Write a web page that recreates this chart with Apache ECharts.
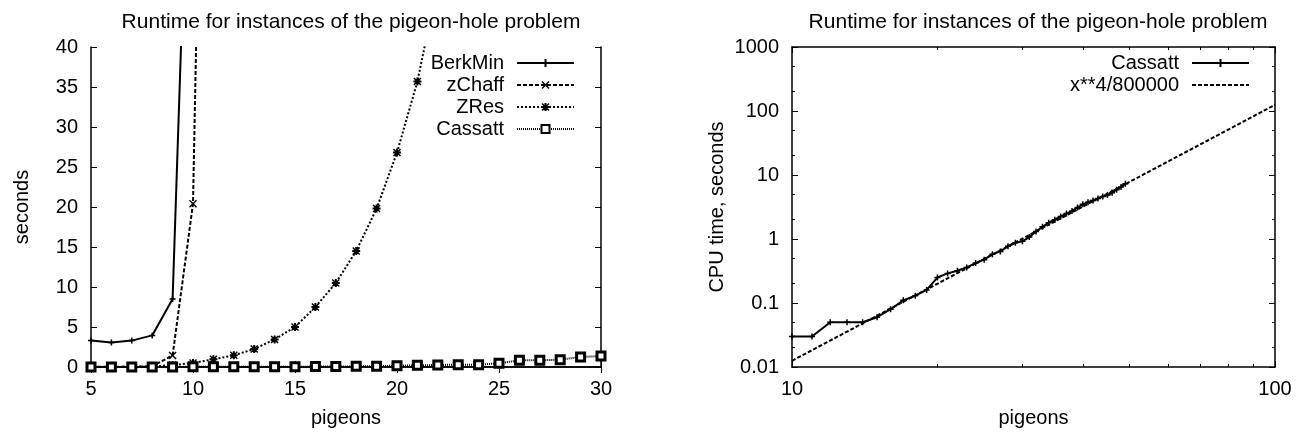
<!DOCTYPE html>
<html>
<head>
<meta charset="utf-8">
<script src="https://cdn.jsdelivr.net/npm/echarts@6/dist/echarts.min.js"></script>
<style>
html,body{margin:0;padding:0;background:#fff;}
#c{width:1308px;height:436px;}
</style>
</head>
<body>
<div id="c"></div>
<script>
// ---- Left chart data ----
const titleText = 'Runtime for instances of the pigeon-hole problem';
const leftXTicks = [5, 10, 15, 20, 25, 30];
const leftYTicks = [0, 5, 10, 15, 20, 25, 30, 35, 40];
const berkminX = [5, 6, 7, 8, 9, 10];
const berkminY = [3.3, 3.05, 3.3, 3.95, 8.5, 85];
const zchaffX = [5, 6, 7, 8, 9, 10, 11];
const zchaffY = [0.03, 0.03, 0.04, 0.1, 1.45, 20.4, 150];
const zresX = [5, 6, 7, 8, 9, 10, 11, 12, 13, 14, 15, 16, 17, 18, 19, 20, 21, 22];
const zresY = [0.01, 0.01, 0.02, 0.05, 0.25, 0.5, 0.96, 1.46, 2.25, 3.45, 5.0, 7.5, 10.5, 14.5, 19.8, 26.8, 35.7, 48];
const cassattLX = [5, 6, 7, 8, 9, 10, 11, 12, 13, 14, 15, 16, 17, 18, 19, 20, 21, 22, 23, 24, 25, 26, 27, 28, 29, 30];
const cassattLY = [0.01, 0.01, 0.01, 0.01, 0.01, 0.02, 0.02, 0.03, 0.03, 0.03, 0.04, 0.05, 0.07, 0.08, 0.1, 0.17, 0.21, 0.25, 0.29, 0.29, 0.46, 0.83, 0.83, 0.92, 1.25, 1.37];

// ---- Right chart data ----
const rightXMajor = [10, 100];
const rightXMinor = [20, 30, 40, 50, 60, 70, 80, 90];
const rightYMajor = [0.01, 0.1, 1, 10, 100, 1000];
const rightYMinor = [0.02, 0.05, 0.2, 0.5, 2, 5, 20, 50, 200, 500];
const cassattRX = [10, 11, 12, 13, 14, 15, 16, 17, 18, 19, 20, 21, 22, 23, 24, 25, 26, 27, 28, 29, 30, 31, 32, 33, 34, 35, 36, 37, 38, 39, 40, 41, 42, 43, 44, 45, 46, 47, 48, 49];
const cassattRY = [0.03, 0.03, 0.05, 0.05, 0.05, 0.06, 0.08, 0.11, 0.13, 0.16, 0.25, 0.29, 0.32, 0.36, 0.42, 0.475, 0.58, 0.64, 0.77, 0.87, 0.92, 1.07, 1.31, 1.55, 1.8, 2.0, 2.25, 2.5, 2.75, 3.1, 3.5, 3.75, 4.0, 4.3, 4.6, 4.85, 5.3, 5.9, 6.5, 7.3];
const fitX = [10, 100];
const fitY = [0.0125, 125];

const zip = (xs, ys) => xs.map((x, i) => [x, ys[i]]);

const FONT = 'Liberation Sans, Arial, Helvetica, sans-serif';
const plusPath = 'path://M3,0H5V3H8V5H5V8H3V5H0V3H3Z';
const crossPath = 'path://M0,1L1,0L4,3L7,0L8,1L5,4L8,7L7,8L4,5L1,8L0,7L3,4Z';
const starPath = 'path://M3,0H5V3H8V5H5V8H3V5H0V3H3Z M0,1L1,0L4,3L7,0L8,1L5,4L8,7L7,8L4,5L1,8L0,7L3,4Z';

const labelStyle = {fontFamily: FONT, fontSize: 20, color: '#000'};
const lineAxis = {show: true, lineStyle: {color: '#000', width: 1.5}};

function fmt(v) { return String(+(+v).toPrecision(6)); }

const grids = [
  {left: 91, top: 47, width: 510, height: 320},
  {left: 792, top: 47, width: 483, height: 320}
];

const xAxes = [
  { // 0 left bottom
    gridIndex: 0, type: 'value', position: 'bottom', min: 5, max: 30, interval: 5,
    axisLine: lineAxis,
    axisTick: {show: true, inside: true, length: 6, lineStyle: {color: '#000', width: 1}, customValues: leftXTicks},
    axisLabel: Object.assign({margin: 12, customValues: leftXTicks, formatter: fmt}, labelStyle),
    splitLine: {show: false},
    name: 'pigeons', nameLocation: 'middle', nameGap: 41,
    nameTextStyle: {fontFamily: FONT, fontSize: 20, color: '#000'}
  },
  { // 1 left top
    gridIndex: 0, type: 'value', position: 'top', min: 5, max: 30, interval: 5,
    axisLine: lineAxis,
    axisTick: {show: true, inside: true, length: 6, lineStyle: {color: '#000', width: 1}, customValues: leftXTicks},
    axisLabel: {show: false}, splitLine: {show: false}
  },
  { // 2 right bottom major
    gridIndex: 1, type: 'log', logBase: 10, position: 'bottom', min: 10, max: 100,
    axisLine: lineAxis,
    axisTick: {show: true, inside: true, length: 6, lineStyle: {color: '#000', width: 1}, customValues: rightXMajor},
    axisLabel: Object.assign({margin: 12, customValues: rightXMajor, formatter: fmt}, labelStyle),
    splitLine: {show: false},
    name: 'pigeons', nameLocation: 'middle', nameGap: 41,
    nameTextStyle: {fontFamily: FONT, fontSize: 20, color: '#000'}
  },
  { // 3 right bottom minor
    gridIndex: 1, type: 'log', logBase: 10, position: 'bottom', min: 10, max: 100,
    axisLine: {show: false},
    axisTick: {show: true, inside: true, length: 3, lineStyle: {color: '#000', width: 1}, customValues: rightXMinor},
    axisLabel: {show: false}, splitLine: {show: false}
  },
  { // 4 right top major
    gridIndex: 1, type: 'log', logBase: 10, position: 'top', min: 10, max: 100,
    axisLine: lineAxis,
    axisTick: {show: true, inside: true, length: 6, lineStyle: {color: '#000', width: 1}, customValues: rightXMajor},
    axisLabel: {show: false}, splitLine: {show: false}
  },
  { // 5 right top minor
    gridIndex: 1, type: 'log', logBase: 10, position: 'top', min: 10, max: 100,
    axisLine: {show: false},
    axisTick: {show: true, inside: true, length: 3, lineStyle: {color: '#000', width: 1}, customValues: rightXMinor},
    axisLabel: {show: false}, splitLine: {show: false}
  }
];

const yAxes = [
  { // 0 left left
    gridIndex: 0, type: 'value', position: 'left', min: 0, max: 40, interval: 5,
    axisLine: lineAxis,
    axisTick: {show: true, inside: true, length: 6, lineStyle: {color: '#000', width: 1}, customValues: leftYTicks},
    axisLabel: Object.assign({margin: 13, customValues: leftYTicks, formatter: fmt}, labelStyle),
    splitLine: {show: false},
    name: 'seconds', nameLocation: 'middle', nameGap: 59,
    nameTextStyle: {fontFamily: FONT, fontSize: 20, color: '#000'}
  },
  { // 1 left right
    gridIndex: 0, type: 'value', position: 'right', min: 0, max: 40, interval: 5,
    axisLine: lineAxis,
    axisTick: {show: true, inside: true, length: 6, lineStyle: {color: '#000', width: 1}, customValues: leftYTicks},
    axisLabel: {show: false}, splitLine: {show: false}
  },
  { // 2 right-chart left major
    gridIndex: 1, type: 'log', logBase: 10, position: 'left', min: 0.01, max: 1000,
    axisLine: lineAxis,
    axisTick: {show: true, inside: true, length: 6, lineStyle: {color: '#000', width: 1}, customValues: rightYMajor},
    axisLabel: Object.assign({margin: 13, customValues: rightYMajor, formatter: fmt}, labelStyle),
    splitLine: {show: false},
    name: 'CPU time, seconds', nameLocation: 'middle', nameGap: 65,
    nameTextStyle: {fontFamily: FONT, fontSize: 20, color: '#000'}
  },
  { // 3 right-chart left minor
    gridIndex: 1, type: 'log', logBase: 10, position: 'left', min: 0.01, max: 1000,
    axisLine: {show: false},
    axisTick: {show: true, inside: true, length: 3, lineStyle: {color: '#000', width: 1}, customValues: rightYMinor},
    axisLabel: {show: false}, splitLine: {show: false}
  },
  { // 4 right-chart right major
    gridIndex: 1, type: 'log', logBase: 10, position: 'right', min: 0.01, max: 1000,
    axisLine: lineAxis,
    axisTick: {show: true, inside: true, length: 6, lineStyle: {color: '#000', width: 1}, customValues: rightYMajor},
    axisLabel: {show: false}, splitLine: {show: false}
  },
  { // 5 right-chart right minor
    gridIndex: 1, type: 'log', logBase: 10, position: 'right', min: 0.01, max: 1000,
    axisLine: {show: false},
    axisTick: {show: true, inside: true, length: 3, lineStyle: {color: '#000', width: 1}, customValues: rightYMinor},
    axisLabel: {show: false}, splitLine: {show: false}
  }
];

const legendText = {fontFamily: FONT, fontSize: 20, color: '#000', lineHeight: 22, padding: [0, 8, 0, 0]};

const option = {
  backgroundColor: '#fff',
  animation: false,
  textStyle: {fontFamily: FONT},
  title: [
    {text: titleText, left: 346, top: 7, textAlign: 'center',
     textStyle: {fontFamily: FONT, fontSize: 21, fontWeight: 'normal', color: '#000'}},
    {text: titleText, left: 1033, top: 7, textAlign: 'center',
     textStyle: {fontFamily: FONT, fontSize: 21, fontWeight: 'normal', color: '#000'}}
  ],
  grid: grids,
  xAxis: xAxes,
  yAxis: yAxes,
  legend: [
    {
      data: ['BerkMin', 'zChaff', 'ZRes', 'Cassatt'],
      orient: 'vertical', align: 'right', right: 733, top: 52, padding: 0,
      itemWidth: 57, itemHeight: 10, itemGap: 0,
      textStyle: legendText, selectedMode: false
    },
    {
      data: ['Cassatt ', 'x**4/800000'],
      orient: 'vertical', align: 'right', right: 58, top: 52, padding: 0,
      itemWidth: 57, itemHeight: 10, itemGap: 0,
      formatter: n => n.trim(),
      textStyle: legendText, selectedMode: false
    }
  ],
  series: [
    {
      name: 'BerkMin', type: 'line', xAxisIndex: 0, yAxisIndex: 0,
      data: zip(berkminX, berkminY),
      symbol: plusPath, symbolSize: 6,
      lineStyle: {color: '#000', width: 2, type: 'solid'},
      itemStyle: {color: '#000'}
    },
    {
      name: 'zChaff', type: 'line', xAxisIndex: 0, yAxisIndex: 0,
      data: zip(zchaffX, zchaffY),
      symbol: crossPath, symbolSize: 8,
      lineStyle: {color: '#000', width: 2, type: [4, 2]},
      itemStyle: {color: '#000'}
    },
    {
      name: 'ZRes', type: 'line', xAxisIndex: 0, yAxisIndex: 0,
      data: zip(zresX, zresY),
      symbol: starPath, symbolSize: 8,
      lineStyle: {color: '#000', width: 2, type: [2, 2]},
      itemStyle: {color: '#000'}
    },
    {
      name: 'Cassatt', type: 'line', xAxisIndex: 0, yAxisIndex: 0,
      data: zip(cassattLX, cassattLY),
      symbol: 'rect', symbolSize: 8,
      lineStyle: {color: '#000', width: 2, type: [1, 1]},
      itemStyle: {color: '#fff', borderColor: '#000', borderWidth: 3}
    },
    {
      name: 'Cassatt ', type: 'line', xAxisIndex: 2, yAxisIndex: 2,
      data: zip(cassattRX, cassattRY),
      symbol: plusPath, symbolSize: 6,
      lineStyle: {color: '#000', width: 2, type: 'solid'},
      itemStyle: {color: '#000'}
    },
    {
      name: 'x**4/800000', type: 'line', xAxisIndex: 2, yAxisIndex: 2,
      data: zip(fitX, fitY),
      symbol: 'circle', showSymbol: false, symbolSize: 0,
      lineStyle: {color: '#000', width: 2, type: [4, 2]},
      itemStyle: {color: 'rgba(0,0,0,0)', borderColor: 'rgba(0,0,0,0)', borderWidth: 0}
    }
  ]
};

const chart = echarts.init(document.getElementById('c'), null, {renderer: 'canvas'});
chart.setOption(option);
</script>
</body>
</html>
